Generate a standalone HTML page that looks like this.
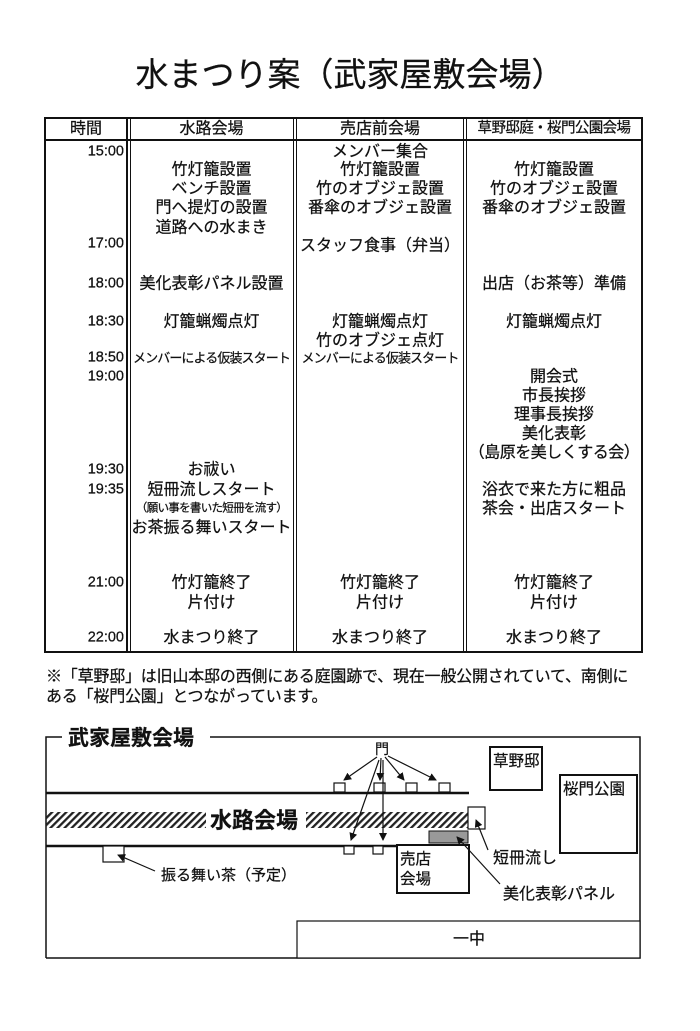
<!DOCTYPE html>
<html><head><meta charset="utf-8"><style>
body{margin:0;background:#fff;}
#p{position:relative;width:700px;height:1031px;background:#fff;font-family:"Liberation Sans","Noto Sans CJK JP",sans-serif;color:#111;overflow:hidden;-webkit-text-stroke:0.25px #111}
.t{position:absolute;white-space:nowrap;font-size:16px;line-height:19px;transform:translateY(-50%)}
.c{text-align:center}
.r{text-align:right}
.b{position:absolute;background:#111}
</style></head><body><div id="p">
<div class="t c" style="left:0;width:700px;top:75px;font-size:33px;line-height:38px">水まつり案（武家屋敷会場）</div>

<div style="position:absolute;left:44px;top:117px;width:595px;height:532px;border:2px solid #111"></div>
<div class="b" style="left:44px;top:139px;width:598px;height:2px"></div>
<div class="b" style="left:126px;top:117px;width:2px;height:534px"></div>
<div class="b" style="left:130px;top:117px;width:1px;height:534px"></div>
<div class="b" style="left:293px;top:117px;width:1px;height:534px"></div>
<div class="b" style="left:296px;top:117px;width:1px;height:534px"></div>
<div class="b" style="left:463px;top:117px;width:1px;height:534px"></div>
<div class="b" style="left:466px;top:117px;width:1px;height:534px"></div>

<div class="t c" style="left:46px;width:80px;top:129px">時間</div>
<div class="t c" style="left:130px;width:163px;top:129px">水路会場</div>
<div class="t c" style="left:297px;width:166px;top:129px">売店前会場</div>
<div class="t c" style="left:467px;width:174px;top:129px;font-size:14.5px;letter-spacing:-0.6px">草野邸庭・桜門公園会場</div>

<div class="t r" style="left:46px;width:78px;top:152px;font-size:14.5px">15:00</div>
<div class="t r" style="left:46px;width:78px;top:244px;font-size:14.5px">17:00</div>
<div class="t r" style="left:46px;width:78px;top:284px;font-size:14.5px">18:00</div>
<div class="t r" style="left:46px;width:78px;top:322px;font-size:14.5px">18:30</div>
<div class="t r" style="left:46px;width:78px;top:358px;font-size:14.5px">18:50</div>
<div class="t r" style="left:46px;width:78px;top:377px;font-size:14.5px">19:00</div>
<div class="t r" style="left:46px;width:78px;top:470px;font-size:14.5px">19:30</div>
<div class="t r" style="left:46px;width:78px;top:490px;font-size:14.5px">19:35</div>
<div class="t r" style="left:46px;width:78px;top:583px;font-size:14.5px">21:00</div>
<div class="t r" style="left:46px;width:78px;top:638px;font-size:14.5px">22:00</div>

<div class="t c" style="left:130px;width:163px;top:170px">竹灯籠設置</div>
<div class="t c" style="left:130px;width:163px;top:189px">ベンチ設置</div>
<div class="t c" style="left:130px;width:163px;top:208px">門へ提灯の設置</div>
<div class="t c" style="left:130px;width:163px;top:228px">道路への水まき</div>
<div class="t c" style="left:130px;width:163px;top:284px">美化表彰パネル設置</div>
<div class="t c" style="left:130px;width:163px;top:322px">灯籠蝋燭点灯</div>
<div class="t c" style="left:128px;width:167px;top:358px;font-size:13px;letter-spacing:-0.9px">メンバーによる仮装スタート</div>
<div class="t c" style="left:130px;width:163px;top:470px">お祓い</div>
<div class="t c" style="left:130px;width:163px;top:490px">短冊流しスタート</div>
<div class="t c" style="left:130px;width:163px;top:509px;font-size:11.5px;letter-spacing:-0.7px">（願い事を書いた短冊を流す）</div>
<div class="t c" style="left:130px;width:163px;top:528px">お茶振る舞いスタート</div>
<div class="t c" style="left:130px;width:163px;top:583px">竹灯籠終了</div>
<div class="t c" style="left:130px;width:163px;top:603px">片付け</div>
<div class="t c" style="left:130px;width:163px;top:638px">水まつり終了</div>

<div class="t c" style="left:297px;width:166px;top:152px">メンバー集合</div>
<div class="t c" style="left:297px;width:166px;top:170px">竹灯籠設置</div>
<div class="t c" style="left:297px;width:166px;top:189px">竹のオブジェ設置</div>
<div class="t c" style="left:297px;width:166px;top:208px">番傘のオブジェ設置</div>
<div class="t c" style="left:297px;width:166px;top:246px">スタッフ食事（弁当）</div>
<div class="t c" style="left:297px;width:166px;top:322px">灯籠蝋燭点灯</div>
<div class="t c" style="left:297px;width:166px;top:341px">竹のオブジェ点灯</div>
<div class="t c" style="left:295px;width:170px;top:358px;font-size:13px;letter-spacing:-0.9px">メンバーによる仮装スタート</div>
<div class="t c" style="left:297px;width:166px;top:583px">竹灯籠終了</div>
<div class="t c" style="left:297px;width:166px;top:603px">片付け</div>
<div class="t c" style="left:297px;width:166px;top:638px">水まつり終了</div>

<div class="t c" style="left:467px;width:174px;top:170px">竹灯籠設置</div>
<div class="t c" style="left:467px;width:174px;top:189px">竹のオブジェ設置</div>
<div class="t c" style="left:467px;width:174px;top:208px">番傘のオブジェ設置</div>
<div class="t c" style="left:467px;width:174px;top:284px">出店（お茶等）準備</div>
<div class="t c" style="left:467px;width:174px;top:322px">灯籠蝋燭点灯</div>
<div class="t c" style="left:467px;width:174px;top:377px">開会式</div>
<div class="t c" style="left:467px;width:174px;top:396px">市長挨拶</div>
<div class="t c" style="left:467px;width:174px;top:415px">理事長挨拶</div>
<div class="t c" style="left:467px;width:174px;top:434px">美化表彰</div>
<div class="t c" style="left:467px;width:174px;top:453px;letter-spacing:-0.5px">（島原を美しくする会）</div>
<div class="t c" style="left:467px;width:174px;top:490px">浴衣で来た方に粗品</div>
<div class="t c" style="left:467px;width:174px;top:509px">茶会・出店スタート</div>
<div class="t c" style="left:467px;width:174px;top:583px">竹灯籠終了</div>
<div class="t c" style="left:467px;width:174px;top:603px">片付け</div>
<div class="t c" style="left:467px;width:174px;top:638px">水まつり終了</div>

<div class="t" style="left:46px;top:677px;font-size:16px;letter-spacing:-0.2px">※「草野邸」は旧山本邸の西側にある庭園跡で、現在一般公開されていて、南側に</div>
<div class="t" style="left:46px;top:697px;font-size:16px;letter-spacing:-0.2px">ある「桜門公園」とつながっています。</div>

<svg style="position:absolute;left:0;top:0" width="700" height="1031">
<defs>
<pattern id="h" width="5" height="5" patternUnits="userSpaceOnUse" patternTransform="rotate(45)"><rect width="2.3" height="5" fill="#222"/></pattern>
<marker id="a" markerWidth="8" markerHeight="8" refX="7" refY="4" orient="auto" markerUnits="userSpaceOnUse"><path d="M0,0L8,4L0,8z" fill="#111"/></marker>
</defs>
<g fill="none" stroke="#111">
<path d="M46,958V737H62M210,737H640V958H46" stroke-width="1.5"/>
<line x1="46" y1="793" x2="469" y2="793" stroke-width="2.5"/>
<line x1="46" y1="846" x2="469" y2="846" stroke-width="2.5"/>
</g>
<rect x="46" y="812" width="160" height="16" fill="url(#h)"/>
<rect x="306" y="812" width="162" height="16" fill="url(#h)"/>
<g fill="#fff" stroke="#111" stroke-width="1.2">
<rect x="334" y="783" width="11" height="9"/><rect x="374" y="783" width="11" height="9"/>
<rect x="406" y="783" width="11" height="9"/><rect x="439" y="783" width="11" height="9"/>
<rect x="344" y="846" width="10" height="8"/><rect x="373" y="846" width="10" height="8"/>
<rect x="490" y="747" width="52" height="43" stroke-width="2"/>
<rect x="560" y="775" width="77" height="78" stroke-width="2"/>
<rect x="468" y="807" width="17" height="22"/>
<rect x="397" y="845" width="72" height="48" stroke-width="2"/>
<rect x="103" y="846" width="21" height="16"/>
<rect x="297" y="921" width="343" height="37"/>
</g>
<rect x="429" y="831" width="39" height="12" fill="#999" stroke="#111"/>
<g stroke="#111" stroke-width="1.2" marker-end="url(#a)">
<line x1="377" y1="757" x2="344" y2="780"/>
<line x1="381" y1="758" x2="380" y2="780"/>
<line x1="385" y1="757" x2="404" y2="780"/>
<line x1="388" y1="756" x2="436" y2="780"/>
<line x1="379" y1="760" x2="351" y2="840"/>
<line x1="383" y1="760" x2="383" y2="840"/>
<line x1="488" y1="850" x2="476" y2="820"/>
<line x1="500" y1="884" x2="457" y2="837"/>
<line x1="155" y1="871" x2="118" y2="855"/>
</g>
<g font-family="Liberation Sans, Noto Sans CJK JP, sans-serif" fill="#111" stroke="#111" stroke-width="0.25">
<text x="68" y="745" font-size="21" font-weight="bold">武家屋敷会場</text>
<text x="210" y="828" font-size="22" font-weight="bold">水路会場</text>
<text x="375" y="754" font-size="14">門</text>
<text x="493" y="766" font-size="15.5">草野邸</text>
<text x="563" y="794" font-size="15.5">桜門公園</text>
<text x="400" y="864" font-size="15.5">売店</text>
<text x="400" y="884" font-size="15.5">会場</text>
<text x="493" y="863" font-size="16">短冊流し</text>
<text x="503" y="899" font-size="16">美化表彰パネル</text>
<text x="161" y="880" font-size="15">振る舞い茶（予定）</text>
<text x="453" y="944" font-size="16">一中</text>
</g>
</svg>
</div></body></html>
